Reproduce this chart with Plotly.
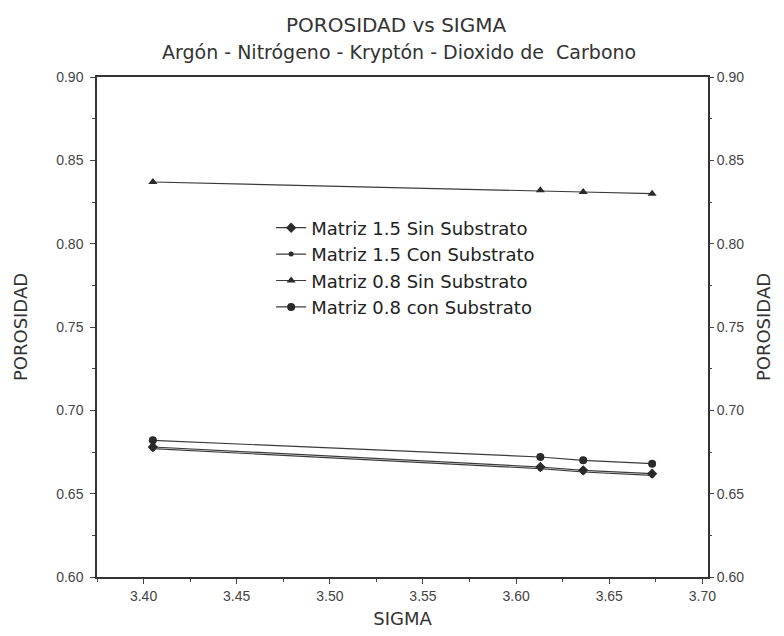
import plotly.graph_objects as go

sigma = [3.405, 3.613, 3.636, 3.673]
m15_sin = [0.678, 0.666, 0.664, 0.662]
m15_con = [0.677, 0.665, 0.663, 0.661]
m08_sin = [0.837, 0.832, 0.831, 0.830]
m08_con = [0.682, 0.672, 0.670, 0.668]

x_ticks = [3.40, 3.45, 3.50, 3.55, 3.60, 3.65, 3.70]
y_ticks = [0.60, 0.65, 0.70, 0.75, 0.80, 0.85, 0.90]

title_line1 = "POROSIDAD vs SIGMA"
title_line2 = "Argón - Nitrógeno - Kryptón - Dioxido de  Carbono"

series = [
    ("Matriz 1.5 Sin Substrato", m15_sin, "diamond", 8),
    ("Matriz 1.5 Con Substrato", m15_con, "circle", 5),
    ("Matriz 0.8 Sin Substrato", m08_sin, "triangle-up", 8),
    ("Matriz 0.8 con Substrato", m08_con, "circle", 8),
]

ink = "#2a2a2a"
fig = go.Figure()
for name, vals, sym, sz in series:
    fig.add_trace(go.Scatter(
        x=sigma, y=vals, name=name, mode="lines+markers",
        line=dict(color="#3a3a3a", width=1.2),
        marker=dict(symbol=sym, size=sz, color=ink),
    ))
# invisible trace to activate the right axis
fig.add_trace(go.Scatter(x=sigma, y=m08_sin, yaxis="y2", mode="markers",
                         marker=dict(opacity=0), showlegend=False, hoverinfo="skip"))

tick_font = dict(family="Liberation Sans, Arial", size=14, color="#444444")
title_font = dict(family="DejaVu Sans, Liberation Sans", size=18, color="#333333")
minor_y = dict(ticks="outside", ticklen=3, dtick=0.025, tick0=0.60, tickcolor="#444444")

fig.update_layout(
    width=784, height=636,
    paper_bgcolor="white", plot_bgcolor="white",
    margin=dict(l=89, r=84, t=69, b=67),
    font=dict(family="DejaVu Sans, Liberation Sans", color="#333333"),
    showlegend=True,
    xaxis=dict(
        range=[3.375, 3.703], tickvals=x_ticks, ticktext=[f"{v:.2f}" for v in x_ticks],
        showline=True, linecolor="#333333", linewidth=1.5, mirror=True,
        ticks="outside", ticklen=5, tickcolor="#444444", tickfont=tick_font,
        minor=dict(ticks="outside", ticklen=3, dtick=0.025, tick0=3.40, tickcolor="#444444"),
        showgrid=False, zeroline=False, automargin=False,
        title=dict(text="SIGMA", font=title_font, standoff=10),
    ),
    yaxis=dict(
        range=[0.60, 0.90], tickvals=y_ticks, ticktext=[f"{v:.2f}" for v in y_ticks],
        showline=True, linecolor="#333333", linewidth=1.5, mirror=True,
        ticks="outside", ticklen=5, tickcolor="#444444", tickfont=tick_font,
        ticklabelstandoff=4,
        minor=minor_y, showgrid=False, zeroline=False, automargin=False,
        title=dict(text="POROSIDAD", font=title_font, standoff=24),
    ),
    yaxis2=dict(
        range=[0.60, 0.90], tickvals=y_ticks, ticktext=[f"{v:.2f}" for v in y_ticks],
        overlaying="y", side="right",
        ticks="outside", ticklen=5, tickcolor="#444444", tickfont=tick_font,
        minor=minor_y, showgrid=False, zeroline=False, showline=False, automargin=False,
        title=dict(text="POROSIDAD", font=title_font, standoff=14),
    ),
    legend=dict(
        x=0.285, y=0.735, xanchor="left", yanchor="top",
        bgcolor="rgba(0,0,0,0)",
        font=dict(family="DejaVu Sans, Liberation Sans", size=18, color="#222222"),
        tracegroupgap=0,
    ),
    annotations=[
        dict(text=title_line1, xref="paper", yref="paper", x=0.49, y=1.105,
             xanchor="center", yanchor="middle", showarrow=False,
             font=dict(family="DejaVu Sans, Liberation Sans", size=20, color="#333333")),
        dict(text=title_line2, xref="paper", yref="paper", x=0.495, y=1.05,
             xanchor="center", yanchor="middle", showarrow=False,
             font=dict(family="DejaVu Sans, Liberation Sans", size=19, color="#333333")),
    ],
)

fig.write_html("out.html")
